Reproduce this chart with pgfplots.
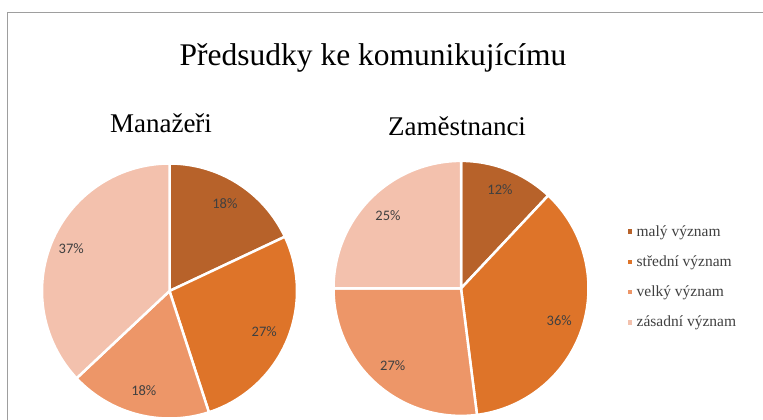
\documentclass[border=0pt]{standalone}
\usepackage{pgfplots}
\pgfplotsset{compat=1.18}
\usepackage{fontspec}
\setmainfont{Liberation Serif}
\newfontfamily\tnr{Liberation Serif}
\newfontfamily\calibri{Carlito}
\definecolor{cA}{HTML}{B7622A}
\definecolor{cB}{HTML}{DE7429}
\definecolor{cC}{HTML}{ED9668}
\definecolor{cD}{HTML}{F3C1AD}
\definecolor{txt}{HTML}{404040}
% \pieslice{cumulative start %}{value %}{colour}{label radius}
\newcommand{\pieslice}[4]{%
  \addplot[fill=#3, draw=white, line width=2.5pt, samples=80,
    domain={90-3.6*(#1+#2)}:{90-3.6*(#1)}]
    ({cos(x)},{sin(x)}) -- (axis cs:0,0) -- cycle;
  \node[font=\calibri\fontsize{14.5}{16}\selectfont, text=txt]
    at (axis cs:{#4*cos(90-3.6*(#1+#2/2))},{#4*sin(90-3.6*(#1+#2/2))}) {#2\%};
}
\pgfplotsset{pieaxis/.style={width=255pt, height=255pt, scale only axis,
  xmin=-1, xmax=1, ymin=-1, ymax=1, hide axis, clip=false, anchor=center}}
\begin{document}
\begin{tikzpicture}[x=1pt,y=1pt]
\path[use as bounding box] (0,0) rectangle (763,420);
\draw[color=black!38, line width=1.5pt] (7.5,0) -- (7.5,407.5) -- (763,407.5);
\node[anchor=base, font=\tnr\fontsize{31.5}{36}\selectfont] at (373,354) {Předsudky ke komunikujícímu};
\node[anchor=base, font=\tnr\fontsize{27}{30}\selectfont] at (161,287) {Manažeři};
\node[anchor=base, font=\tnr\fontsize{27}{30}\selectfont] at (457,284) {Zaměstnanci};

% Manažeři: malý 18, střední 27, velký 18, zásadní 37
\begin{axis}[pieaxis, at={(169.5pt,129pt)}]
\pieslice{0}{18}{cA}{0.81}
\pieslice{18}{27}{cB}{0.81}
\pieslice{45}{18}{cC}{0.81}
\pieslice{63}{37}{cD}{0.84}
\end{axis}

% Zaměstnanci: malý 12, střední 36, velký 27, zásadní 25
\begin{axis}[pieaxis, at={(461pt,131.6pt)},
  legend style={at={(1.143,0.545)}, anchor=west, draw=none, fill=none,
    inner sep=0pt, row sep=14pt,
    font=\tnr\fontsize{15.5}{17}\selectfont, text=txt},
  legend cell align=left,
  legend image code/.code={\fill[#1] (0pt,-3.5pt) rectangle (7pt,3.5pt);}]
\pieslice{0}{12}{cA}{0.83}
\addlegendentry{\tnr malý význam}
\pieslice{12}{36}{cB}{0.81}
\addlegendentry{\tnr střední význam}
\pieslice{48}{27}{cC}{0.81}
\addlegendentry{\tnr velký význam}
\pieslice{75}{25}{cD}{0.81}
\addlegendentry{\tnr zásadní význam}
\end{axis}
\end{tikzpicture}
\end{document}
